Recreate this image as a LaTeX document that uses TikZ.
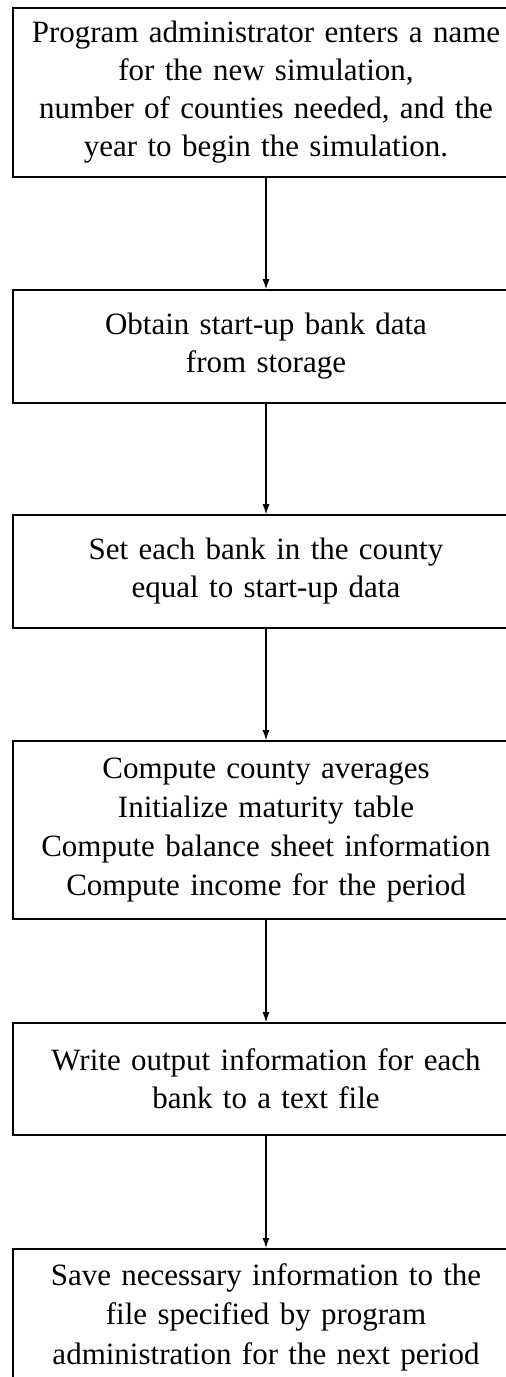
\documentclass[tikz,border=0pt]{standalone}
\usepackage{fontspec}
\setmainfont{Liberation Serif}
\usetikzlibrary{arrows.meta}
\begin{document}
\begin{tikzpicture}[x=0.5pt,y=-0.5pt,
  paso/.style={draw,line width=0.8pt,minimum width=253pt,text width=248pt,align=center,
    inner xsep=1pt,inner ysep=0pt,font=\fontsize{15.5}{19}\selectfont},
  flecha/.style={line width=0.6pt,-{Latex[length=5pt,width=3.5pt]}}]
\useasboundingbox (0,0) rectangle (505,1377);
\node[paso,minimum height=84.5pt] (nombre) at (266,92.5) {Program administrator enters a name\\ for the new simulation,\\ number of counties needed, and the\\ year to begin the simulation.};
\node[paso,minimum height=56.5pt] (obtener) at (266,346.5) {Obtain start-up bank data\\ from storage};
\node[paso,minimum height=56.5pt] (igualar) at (266,571.5) {Set each bank in the county\\ equal to start-up data};
\node[paso,minimum height=89pt,font=\fontsize{15.5}{19.5}\selectfont] (calcular) at (266,830) {Compute county averages\\ Initialize maturity table\\ Compute balance sheet information\\ Compute income for the period};
\node[paso,minimum height=56pt] (escribir) at (266,1079) {Write output information for each\\ bank to a text file};
\node[paso,anchor=north,inner ysep=7.5pt,font=\fontsize{15.5}{19.6}\selectfont] (guardar) at (266,1248) {Save necessary information to the\\ file specified by program\\ administration for the next period};
\draw[flecha] (nombre) -- (obtener);
\draw[flecha] (obtener) -- (igualar);
\draw[flecha] (igualar) -- (calcular);
\draw[flecha] (calcular) -- (escribir);
\draw[flecha] (escribir) -- (guardar);
\end{tikzpicture}
\end{document}
